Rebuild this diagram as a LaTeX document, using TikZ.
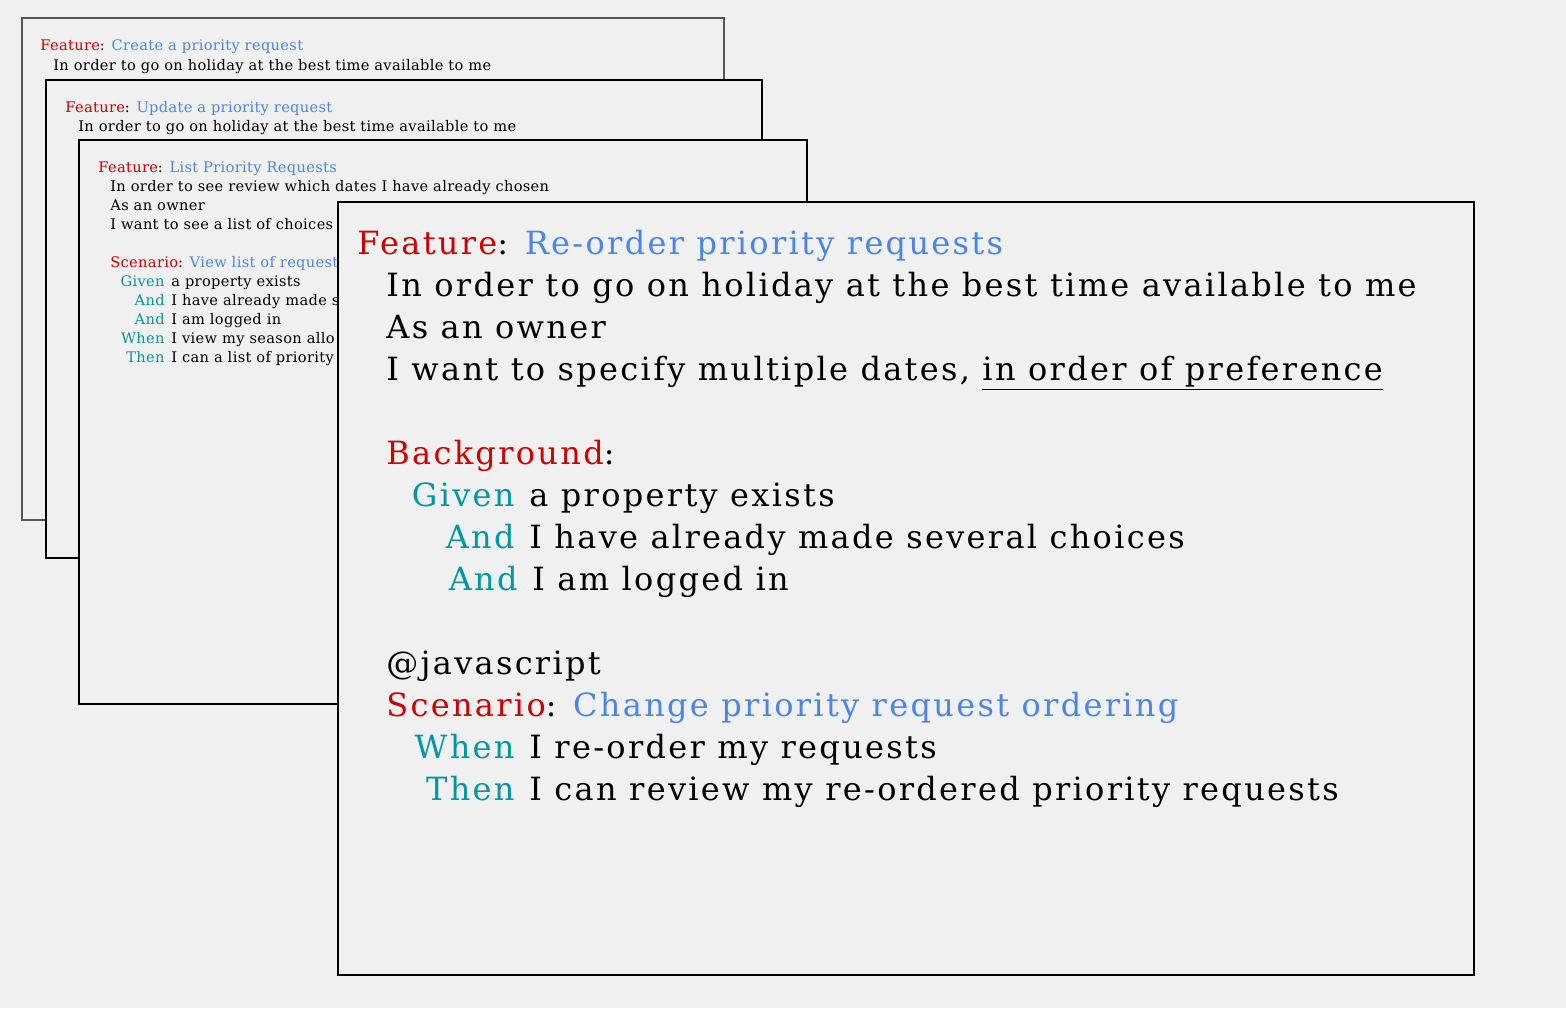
\documentclass[tikz,border=0pt]{standalone}
\usepackage{fontspec}
\setmainfont{DejaVu Serif}
\newfontfamily\bigfam{DejaVu Serif}[LetterSpace=7.2]
\newfontfamily\smallfam{DejaVu Serif}[LetterSpace=2.3]
\usetikzlibrary{positioning}
\definecolor{kwred}{RGB}{204,0,0}
\definecolor{ttlblue}{RGB}{74,134,232}
\definecolor{stepteal}{RGB}{0,150,165}
\definecolor{paper}{RGB}{240,240,240}
\definecolor{edgegray}{RGB}{85,85,85}
\newcommand{\featline}[3]{\textcolor{kwred}{#1}: \textcolor{ttlblue}{#2}#3}

\begin{document}
\begin{tikzpicture}[x=0.5pt,y=-0.5pt,line join=miter,
  card/.style={draw=black,fill=paper,line width=0.8pt},
  txt/.style={anchor=base west,inner sep=0pt},
  kw/.style={anchor=base east,inner sep=0pt,text=stepteal},
  big/.style={font=\bigfam\fontsize{16}{20}\selectfont},
  small/.style={font=\smallfam\fontsize{7.3}{9}\selectfont}]
\fill[paper] (0,0) rectangle (1566,1008);

% card 1
\draw[card,draw=edgegray] (22,18) rectangle (724,520);
\node[txt,small] (c1f) at (40,50) {\featline{Feature}{Create a priority request}{}};
\node[txt,small] (c1a) at (53,70) {In order to go on holiday at the best time available to me};

% card 2
\draw[card] (46,80) rectangle (762,558);
\node[txt,small] (c2f) at (65,112) {\featline{Feature}{Update a priority request}{}};
\node[txt,small] (c2a) at (78,131) {In order to go on holiday at the best time available to me};

% card 3
\draw[card] (79,140) rectangle (807,704);
\node[txt,small] (c3f) at (98,172) {\featline{Feature}{List Priority Requests}{}};
\node[txt,small] (c3a) at (110,191) {In order to see review which dates I have already chosen};
\node[txt,small] (c3b) at (110,210) {As an owner};
\node[txt,small] (c3c) at (110,229) {I want to see a list of choices};
\node[txt,small] (c3s) at (110,267) {\featline{Scenario}{View list of requests}{}};
\node[kw,small] (c3k1) at (165,286) {Given};
\node[txt,small,right=3pt of c3k1.base east,anchor=base west] (c3t1) {a property exists};
\node[kw,small] (c3k2) at (165,305) {And};
\node[txt,small,right=3pt of c3k2.base east,anchor=base west] (c3t2) {I have already made s};
\node[kw,small] (c3k3) at (165,324) {And};
\node[txt,small,right=3pt of c3k3.base east,anchor=base west] (c3t3) {I am logged in};
\node[kw,small] (c3k4) at (165,343) {When};
\node[txt,small,right=3pt of c3k4.base east,anchor=base west] (c3t4) {I view my season allo};
\node[kw,small] (c3k5) at (165,362) {Then};
\node[txt,small,right=3pt of c3k5.base east,anchor=base west] (c3t5) {I can a list of priority};

% card 4 (front)
\draw[card,line width=1.1pt] (338,202) rectangle (1474,975);
\node[txt,big] (c4f) at (357,254) {\featline{Feature}{Re-order priority requests}{}};
\node[txt,big] (c4a) at (386,296) {In order to go on holiday at the best time available to me};
\node[txt,big] (c4b) at (386,338) {As an owner};
\node[txt,big] (c4c) at (386,380) {I want to specify multiple dates, \underline{in order of preference}};
\node[txt,big] (c4bg) at (386,464) {\textcolor{kwred}{Background}:};
\node[kw,big] (c4k1) at (515,506) {Given};
\node[txt,big,right=7pt of c4k1.base east,anchor=base west] (c4t1) {a property exists};
\node[kw,big] (c4k2) at (515,548) {And};
\node[txt,big,right=7pt of c4k2.base east,anchor=base west] (c4t2) {I have already made several choices};
\node[kw,big] (c4k3) at (518,590) {And};
\node[txt,big,right=7pt of c4k3.base east,anchor=base west] (c4t3) {I am logged in};
\node[txt,big] (c4tag) at (386,674) {@javascript};
\node[txt,big] (c4s) at (386,716) {\featline{Scenario}{Change priority request ordering}{}};
\node[kw,big] (c4k4) at (515,758) {When};
\node[txt,big,right=7pt of c4k4.base east,anchor=base west] (c4t4) {I re-order my requests};
\node[kw,big] (c4k5) at (515,800) {Then};
\node[txt,big,right=7pt of c4k5.base east,anchor=base west] (c4t5) {I can review my re-ordered priority requests};
\end{tikzpicture}
\end{document}
